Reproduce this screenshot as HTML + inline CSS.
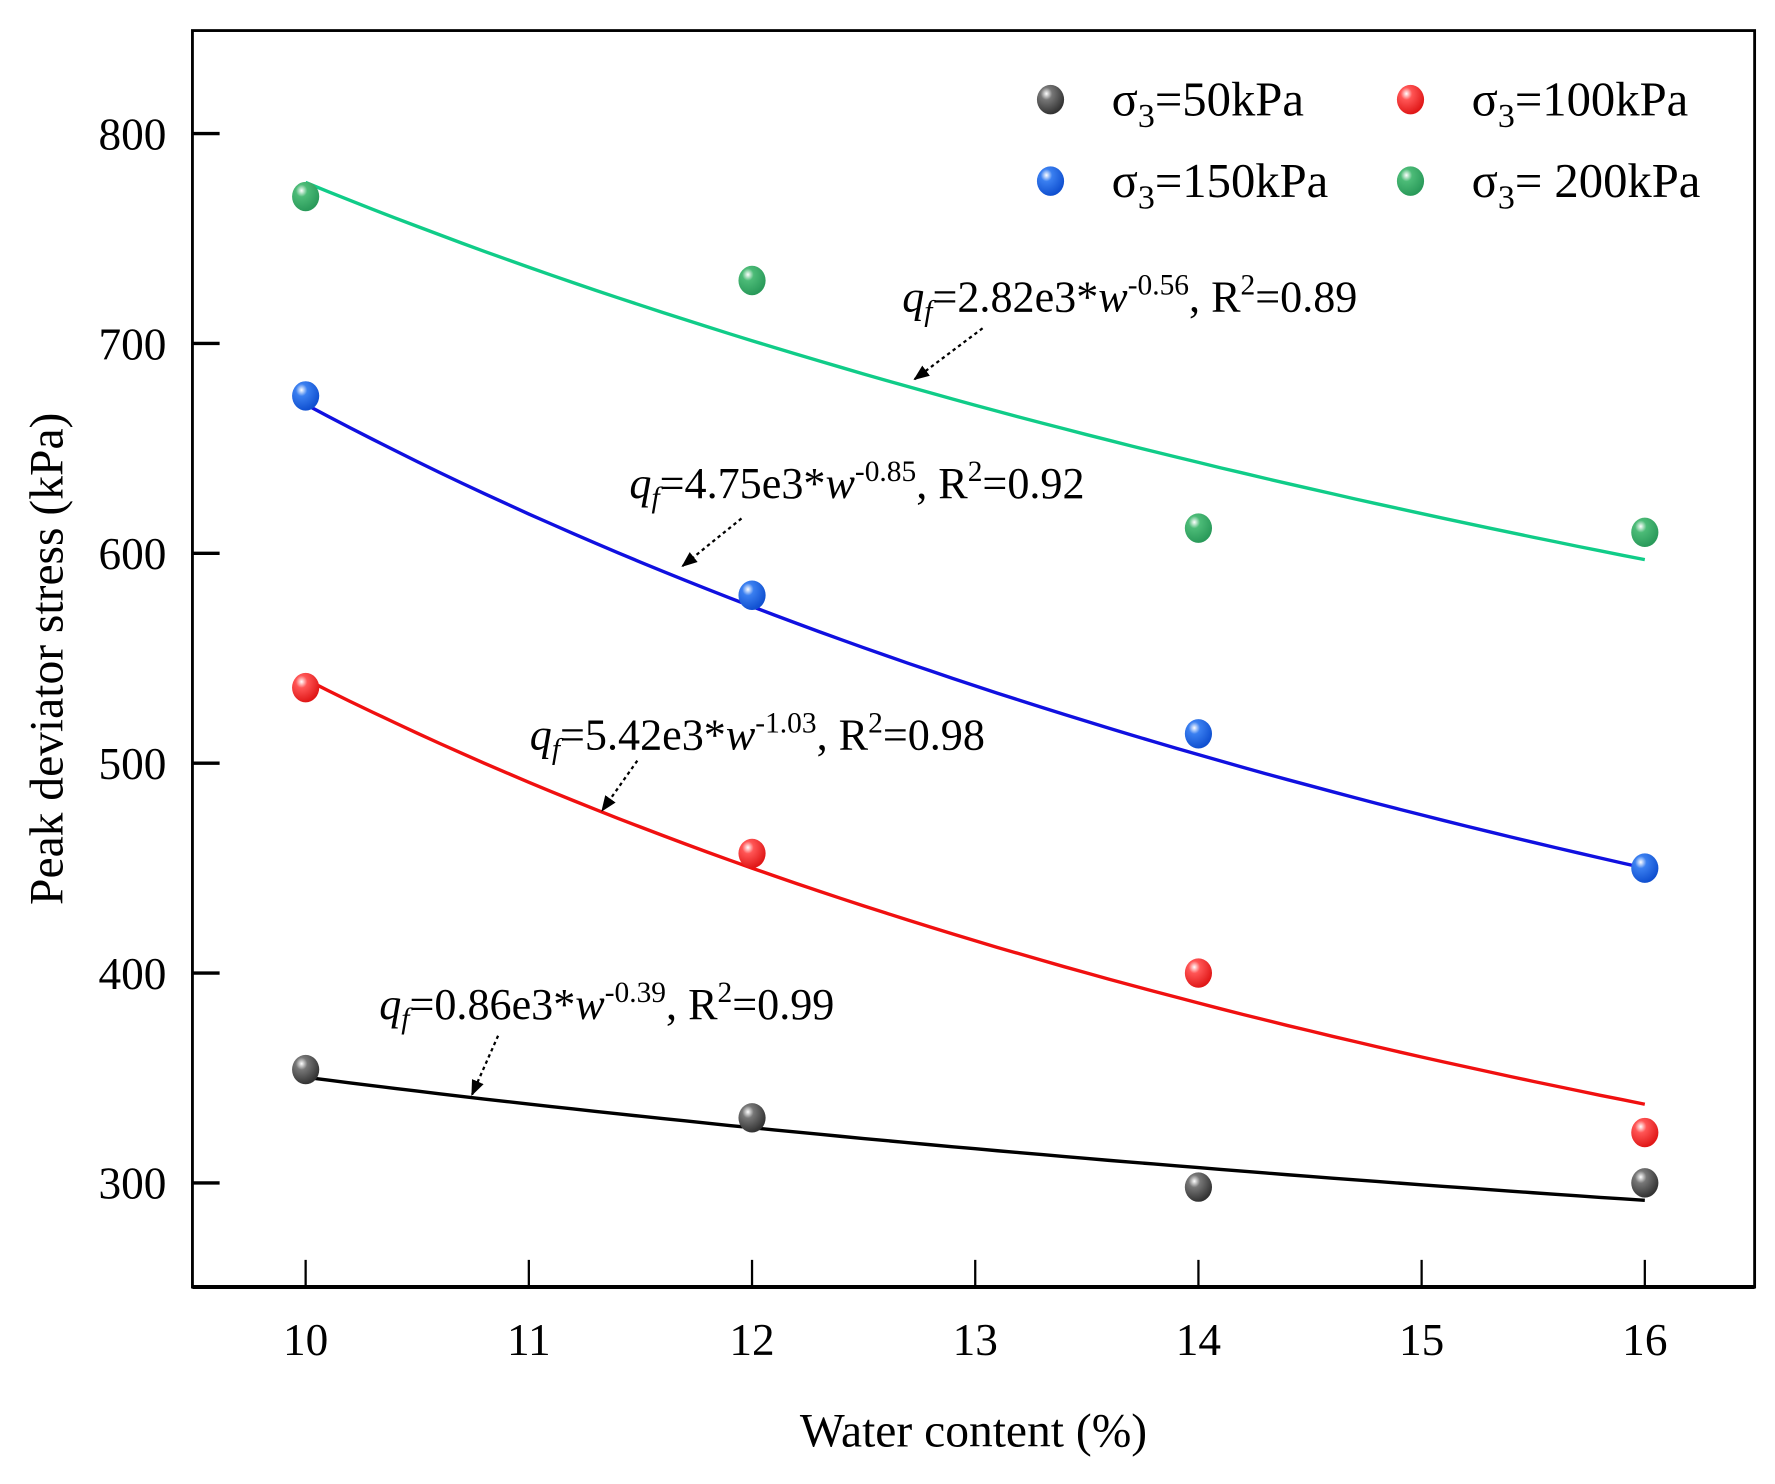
<!DOCTYPE html>
<html><head><meta charset="utf-8"><style>
html,body{margin:0;padding:0;background:#fff;}
svg{display:block;font-family:"Liberation Serif",serif;}
</style></head><body>
<svg id="chart" width="1775" height="1484" viewBox="0 0 1568 1311" preserveAspectRatio="none" xmlns="http://www.w3.org/2000/svg">
<defs>
<radialGradient id="gk" cx="0.35" cy="0.3" r="0.7"><stop offset="0" stop-color="#fff"/><stop offset="0.3" stop-color="#777"/><stop offset="1" stop-color="#333"/></radialGradient>
<radialGradient id="gr" cx="0.35" cy="0.3" r="0.7"><stop offset="0" stop-color="#fff"/><stop offset="0.3" stop-color="#f55"/><stop offset="1" stop-color="#e01818"/></radialGradient>
<radialGradient id="gb" cx="0.35" cy="0.3" r="0.7"><stop offset="0" stop-color="#fff"/><stop offset="0.3" stop-color="#3a7ff0"/><stop offset="1" stop-color="#1050d0"/></radialGradient>
<radialGradient id="gg" cx="0.35" cy="0.3" r="0.7"><stop offset="0" stop-color="#fff"/><stop offset="0.3" stop-color="#4cbb77"/><stop offset="1" stop-color="#2a9a5a"/></radialGradient>
<marker id="ah" viewBox="0 0 10 10" refX="9" refY="5" markerWidth="7" markerHeight="7" orient="auto-start-reverse"><path d="M0,1 L10,5 L0,9 z" fill="#000"/></marker>
</defs>
<g id="plot"></g>
</svg>
<script>
const xTicks=[10,11,12,13,14,15,16];
const yTicks=[300,400,500,600,700,800];
const waterContent=[10,12,14,16];
const s50=[354,331,298,300];
const s100=[536,457,400,324];
const s150=[675,580,514,450];
const s200=[770,730,612,610];
const fitA=[860,5400,4750,2820];
const fitB=[-0.39,-1.0,-0.85,-0.56];
const seriesNames=["50","100","150","200"];
const lineColors=["#000","#f01010","#1010e0","#10cc88"];
const grads=["gk","gr","gb","gg"];
const NS="http://www.w3.org/2000/svg";
const L=170,T=27,R=1550,B=1137;
const X=v=>270+(v-10)*(1453-270)/6;
const Y=v=>1045-(v-300)*(1045-118)/500;
const g=document.getElementById('plot');
function el(tag,attrs,parent){const e=document.createElementNS(NS,tag);for(const k in attrs)e.setAttribute(k,attrs[k]);(parent||g).appendChild(e);return e;}
let f=el('rect',{x:L,y:T,width:R-L,height:B-T,fill:'none',stroke:'#000','stroke-width':2.5});


let bx=el('line',{x1:L,y1:B,x2:R,y2:B,stroke:'#000','stroke-width':3.5});


xTicks.forEach(v=>{
 let t=el('line',{x1:X(v),y1:B,x2:X(v),y2:B-24,stroke:'#000','stroke-width':2});
 
 
 let tx=el('text',{x:X(v),y:1197,'text-anchor':'middle','font-size':40});
 tx.textContent=v;
 
 
});
yTicks.forEach(v=>{
 let t=el('line',{x1:L,y1:Y(v),x2:L+24,y2:Y(v),stroke:'#000','stroke-width':3});
 
 
 let tx=el('text',{x:147,y:Y(v)+14,'text-anchor':'end','font-size':40});
 tx.textContent=v;
 
 
});
let xt=el('text',{x:860,y:1278,'text-anchor':'middle','font-size':42});
xt.textContent='Water content (%)';


let yt=el('text',{x:0,y:0,'text-anchor':'middle','font-size':42,transform:'translate(55,582) rotate(-90)'});
yt.textContent='Peak deviator stress (kPa)';


const allData=[s50,s100,s150,s200];
for(let i=0;i<4;i++){
 let pts=[];
 for(let k=0;k<=60;k++){const w=10+k*0.1;pts.push(X(w).toFixed(1)+','+Y(fitA[i]*Math.pow(w,fitB[i])).toFixed(1));}
 let p=el('polyline',{points:pts.join(' '),fill:'none',stroke:lineColors[i],'stroke-width':3});
 
 
}
for(let i=0;i<4;i++){
 allData[i].forEach((v,j)=>{
  let c=el('ellipse',{cx:X(waterContent[j]),cy:Y(v),rx:12,ry:13,fill:'url(#'+grads[i]+')'});
  
  
 });
}
const leg=[[928,88,0,'50kPa'],[1246,88,1,'100kPa'],[928,160,2,'150kPa'],[1246,160,3,' 200kPa']];
leg.forEach(l=>{
 let c=el('ellipse',{cx:l[0],cy:l[1],rx:12,ry:13,fill:'url(#'+grads[l[2]]+')'});
 
 
 let t=el('text',{x:l[0]+54,y:l[1]+14,'font-size':43});
 t.innerHTML='σ<tspan dy="10" font-size="30">3</tspan><tspan dy="-10">='+l[3]+'</tspan>';
 
 
});
const ann=[[797,275,'2.82e3','-0.56','0.89',[868,290,808,335]],[556,440,'4.75e3','-0.85','0.92',[655,458,603,500]],[468,662,'5.42e3','-1.03','0.98',[563,672,532,716]],[335,900,'0.86e3','-0.39','0.99',[440,915,417,967]]];
ann.forEach(a=>{
 let t=el('text',{x:a[0],y:a[1],'font-size':39});
 t.innerHTML='<tspan font-style="italic">q</tspan><tspan font-style="italic" dy="8" font-size="26">f</tspan><tspan dy="-8">='+a[2]+'*</tspan><tspan font-style="italic">w</tspan><tspan dy="-15" font-size="26">'+a[3]+'</tspan><tspan dy="15">, R</tspan><tspan dy="-15" font-size="26">2</tspan><tspan dy="15">='+a[4]+'</tspan>';
 
 
 let ar=el('line',{x1:a[5][0],y1:a[5][1],x2:a[5][2],y2:a[5][3],stroke:'#000','stroke-width':2,'stroke-dasharray':'3,3','marker-end':'url(#ah)'});
 
 
});
</script>
</body></html>
